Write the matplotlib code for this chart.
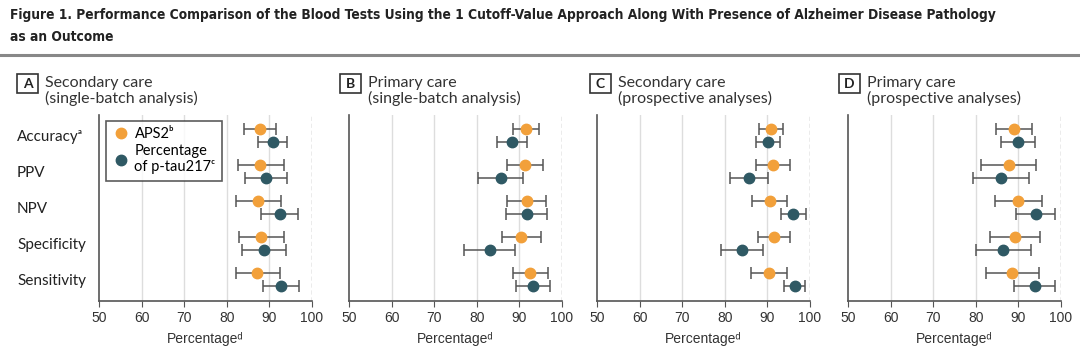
import matplotlib.pyplot as plt
from matplotlib.lines import Line2D
from matplotlib.patches import Rectangle
import numpy as np

body_font = ["Lato", "DejaVu Sans"]
plt.rcParams["font.family"] = body_font

# Data (percent, with 95% CI)
measures = ["Accuracyᵃ", "PPV", "NPV", "Specificity", "Sensitivity"]
panel_letters = ["A", "B", "C", "D"]
panel_titles = [
    "Secondary care\n(single-batch analysis)",
    "Primary care\n(single-batch analysis)",
    "Secondary care\n(prospective analyses)",
    "Primary care\n(prospective analyses)",
]

aps2_est = [
    [87.7, 87.9, 87.3, 88.0, 87.2],
    [91.5, 91.3, 91.7, 90.3, 92.5],
    [90.9, 91.3, 90.6, 91.6, 90.3],
    [88.9, 87.8, 90.0, 89.2, 88.6],
]
aps2_lo = [
    [84.1, 82.6, 82.2, 82.8, 82.2],
    [88.4, 87.0, 87.1, 85.8, 88.4],
    [88.1, 87.3, 86.5, 87.8, 86.1],
    [84.7, 81.3, 84.4, 83.4, 82.3],
]
aps2_hi = [
    [91.6, 93.4, 92.7, 93.4, 92.6],
    [94.7, 95.6, 96.2, 95.1, 96.7],
    [93.7, 95.2, 94.7, 95.3, 94.5],
    [93.1, 94.1, 95.6, 95.0, 94.9],
]
ptau_est = [
    [90.8, 89.2, 92.5, 88.7, 92.7],
    [88.2, 85.6, 91.7, 83.0, 93.1],
    [90.1, 85.7, 96.1, 84.0, 96.5],
    [90.0, 85.9, 94.2, 86.4, 93.9],
]
ptau_lo = [
    [87.4, 84.2, 88.1, 83.5, 88.6],
    [84.7, 80.3, 86.9, 77.0, 89.2],
    [87.3, 81.2, 93.2, 79.2, 94.0],
    [85.9, 79.3, 89.5, 80.1, 88.9],
]
ptau_hi = [
    [94.1, 94.1, 96.8, 94.0, 96.9],
    [91.7, 90.9, 96.5, 89.0, 97.1],
    [93.0, 90.2, 99.0, 89.0, 98.9],
    [94.0, 92.5, 98.7, 92.9, 98.6],
]

orange = "#F2A03A"
teal = "#2F5964"
bar_color = "#555555"
axis_color = "#555555"

fig = plt.figure(figsize=(10.8, 3.61), dpi=100)

title_kw = dict(fontsize=9.9, fontweight="bold", color="#222222", va="center",
                family=["DejaVu Sans"], fontstretch="condensed")
fig.text(0.009, 0.958, "Figure 1. Performance Comparison of the Blood Tests Using the 1 Cutoff-Value "
         "Approach Along With Presence of Alzheimer Disease Pathology", **title_kw)
fig.text(0.009, 0.897, "as an Outcome", **title_kw)
fig.add_artist(Line2D([0, 1], [0.848, 0.848], color="#888888", lw=2.2,
                      transform=fig.transFigure))

lefts = [99, 349, 597, 848]
box_lefts = [17, 340, 590, 839]
y_pos = np.arange(len(measures))
offset = 0.18

for k in range(4):
    ax = fig.add_axes([lefts[k] / 1080, 0.166, 213 / 1080, 0.516])
    ax.errorbar(aps2_est[k], y_pos - offset,
                xerr=[np.array(aps2_est[k]) - np.array(aps2_lo[k]),
                      np.array(aps2_hi[k]) - np.array(aps2_est[k])],
                fmt="o", color=orange, ms=7.5, ecolor=bar_color, elinewidth=1.1,
                capsize=4, capthick=1.1, zorder=3)
    ax.errorbar(ptau_est[k], y_pos + offset,
                xerr=[np.array(ptau_est[k]) - np.array(ptau_lo[k]),
                      np.array(ptau_hi[k]) - np.array(ptau_est[k])],
                fmt="o", color=teal, ms=7.5, ecolor=bar_color, elinewidth=1.1,
                capsize=4, capthick=1.1, zorder=3)

    for g in [60, 70, 80, 90]:
        ax.axvline(g, color="#DDDDDD", lw=1, zorder=0)
    ax.axvline(100, color="#999999", lw=1, ls=(0, (3, 2)), zorder=0)

    ax.set_xlim(50, 100)
    ax.set_ylim(4.6, -0.58)
    ax.set_xticks(range(50, 101, 10))
    ax.tick_params(axis="x", length=4, color=axis_color, labelsize=10,
                   labelcolor="#333333", pad=3)
    for lab in ax.get_xticklabels():
        lab.set_family(["Liberation Sans"])
    for side in ["top", "right"]:
        ax.spines[side].set_visible(False)
    ax.spines["left"].set_color(axis_color)
    ax.spines["bottom"].set_color(axis_color)
    ax.spines["left"].set_linewidth(1.2)
    ax.spines["bottom"].set_linewidth(1.2)
    ax.set_xlabel("Percentageᵈ", fontsize=10, color="#333333", labelpad=5,
                  family=["Liberation Sans", "DejaVu Sans"])

    if k == 0:
        ax.set_yticks(y_pos)
        ax.set_yticklabels(measures, fontsize=11, color="#222222", ha="left")
        ax.tick_params(axis="y", length=0, pad=59)
        handles = [
            Line2D([], [], marker="o", color=orange, ls="none", ms=7.5),
            Line2D([], [], marker="o", color=teal, ls="none", ms=7.5),
        ]
        leg = ax.legend(handles, ["APS2ᵇ", "Percentage\nof p-tau217ᶜ"],
                        loc="upper left", bbox_to_anchor=(0.033, 0.968),
                        borderaxespad=0,
                        prop={"family": body_font, "size": 10.5},
                        frameon=True, fancybox=False, edgecolor="#333333",
                        handletextpad=0.3, handlelength=1.2, borderpad=0.45,
                        labelspacing=0.2)
        leg.get_frame().set_linewidth(1.2)
    else:
        ax.set_yticks([])

    # panel header
    bx = box_lefts[k] / 1080
    fig.add_artist(Rectangle((bx, 1 - 93 / 361), 21 / 1080, 19 / 361,
                             transform=fig.transFigure, fill=False,
                             edgecolor="#333333", lw=1.2))
    fig.text(bx + 10.5 / 1080, 1 - 83.5 / 361, panel_letters[k], fontsize=10,
             fontweight="bold", ha="center", va="center", color="#222222")
    fig.text(bx + 28 / 1080, 1 - 91 / 361, panel_titles[k], fontsize=11.5,
             ha="left", va="center", color="#333333", linespacing=1.0)

fig.savefig("out.png", dpi=100)
